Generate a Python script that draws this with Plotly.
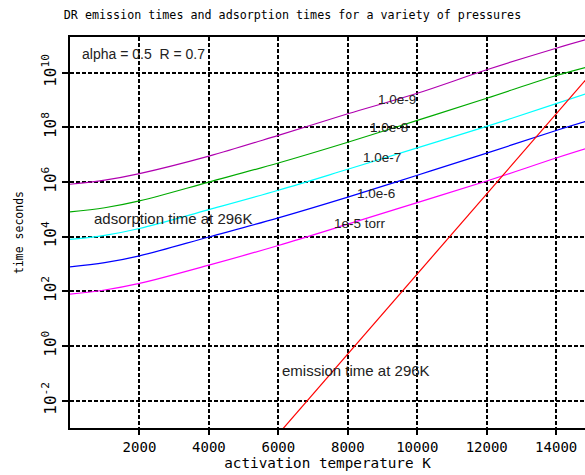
import numpy as np
import plotly.graph_objects as go

# activation temperature (K) sample points
T_K = [0, 1000, 2000, 4000, 6000, 8000, 10000, 12000, 14000, 14850]
# log10 of adsorption time (s) at 296 K for each pressure
log_t_1e5 = [1.90, 2.05, 2.29, 2.96, 3.68, 4.46, 5.25, 6.04, 6.88, 7.22]
log_t_1e6 = [2.90, 3.05, 3.30, 3.99, 4.69, 5.45, 6.25, 7.06, 7.89, 8.22]
log_t_1e7 = [3.90, 4.05, 4.30, 4.99, 5.70, 6.47, 7.25, 8.04, 8.87, 9.23]
log_t_1e8 = [4.91, 5.06, 5.31, 6.00, 6.70, 7.46, 8.26, 9.07, 9.90, 10.20]
log_t_1e9 = [5.92, 6.07, 6.31, 6.95, 7.71, 8.50, 9.25, 10.11, 10.90, 11.21]
# emission time at 296 K
T_em = [6000, 15000]
log_t_em = [-3.22, 9.96]

x_ticks = [2000, 4000, 6000, 8000, 10000, 12000, 14000]
y_exps = [-2, 0, 2, 4, 6, 8, 10]

series = [
    (log_t_1e5, "#ff00ff", "1e-5 torr"),
    (log_t_1e6, "#0000ff", "1.0e-6"),
    (log_t_1e7, "#00ffff", "1.0e-7"),
    (log_t_1e8, "#00aa00", "1.0e-8"),
    (log_t_1e9, "#b000b0", "1.0e-9"),
]

fig = go.Figure()
for vals, col, name in series:
    fig.add_trace(go.Scatter(x=T_K, y=np.power(10.0, vals), mode="lines",
                             line=dict(color=col, width=1.2, shape="spline"),
                             name=name, showlegend=False))
fig.add_trace(go.Scatter(x=T_em, y=np.power(10.0, log_t_em), mode="lines",
                         line=dict(color="#ff0000", width=1.2),
                         name="emission", showlegend=False))

mono = "DejaVu Sans Mono"
sans = "Liberation Sans"

annots = [
    (302, 10.70, "alpha = 0.5  R = 0.7", 14),
    (8798, 9.02, "1.0e-9", 13.5),
    (8568, 8.00, "1.0e-8", 13.5),
    (8366, 6.905, "1.0e-7", 13.5),
    (8194, 5.59, "1.0e-6", 13.5),
    (7531, 4.49, "1e-5 torr", 13.5),
    (619, 4.68, "adsorption time at 296K", 15),
    (6034, -0.913, "emission time at 296K", 15),
]
for ax_, ay_, txt, fs in annots:
    fig.add_annotation(x=ax_, y=ay_, text=txt, showarrow=False,
                       xanchor="left", yanchor="middle",
                       font=dict(family=sans, size=fs, color="#222222"))

fig.update_layout(
    width=585, height=475,
    margin=dict(l=70, r=0, t=37, b=47),
    paper_bgcolor="white", plot_bgcolor="white",
    title=dict(text="DR emission times and adsorption times for a variety of pressures",
               x=0.5, xref="container", xanchor="center",
               y=1 - 15 / 475, yref="container", yanchor="middle",
               font=dict(family=mono, size=11.7, color="black")),
)
fig.update_xaxes(
    range=[0, 14830], tickvals=x_ticks, ticktext=[str(v) for v in x_ticks],
    showline=True, linecolor="black", linewidth=2, mirror=True,
    ticks="outside", ticklen=5, tickwidth=2, tickcolor="black",
    showgrid=True, gridcolor="black", gridwidth=1.5, griddash="4px,2px",
    zeroline=False,
    tickfont=dict(family=mono, size=14, color="black"),
    title=dict(text="activation temperature K", standoff=2,
               font=dict(family=mono, size=14.3, color="black")),
)
fig.update_yaxes(
    type="log", range=[-3, 11.31],
    tickvals=[10.0 ** e for e in y_exps],
    ticktext=["10<sup>%d</sup>" % e for e in y_exps],
    tickangle=-90,
    showline=True, linecolor="black", linewidth=2, mirror=False,
    ticks="outside", ticklen=6, tickwidth=2, tickcolor="black",
    showgrid=True, gridcolor="black", gridwidth=1.5, griddash="4px,2px",
    zeroline=False,
    tickfont=dict(family=mono, size=16, color="black"),
    title=dict(text="time seconds", standoff=13,
               font=dict(family=mono, size=11.5, color="black")),
)

fig.write_html("out.html")
